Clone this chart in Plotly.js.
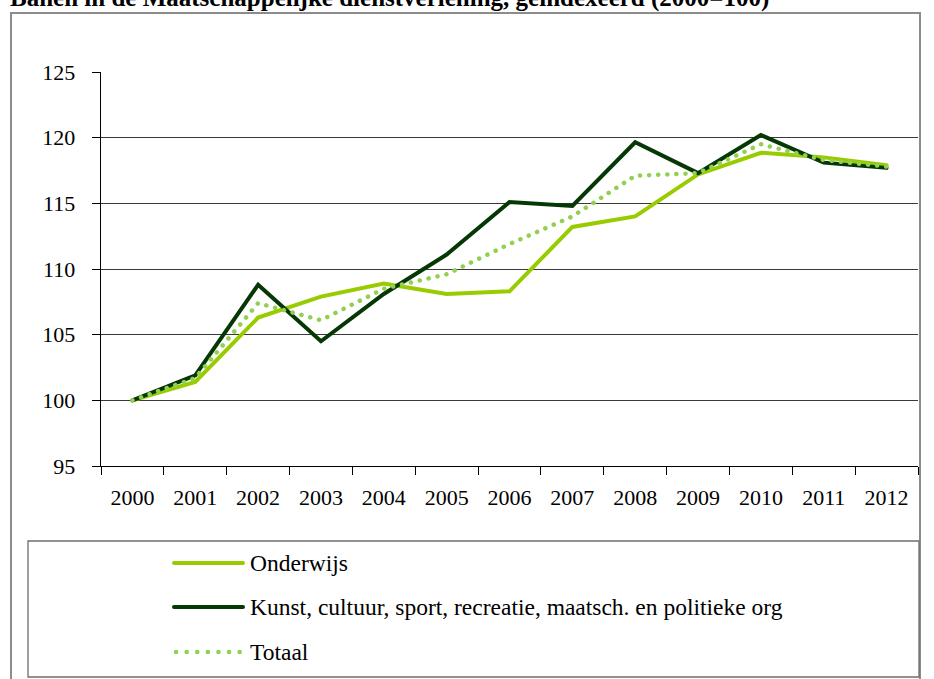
<!DOCTYPE html>
<html>
<head>
<meta charset="utf-8">
<script src="https://cdn.plot.ly/plotly-3.0.1.min.js"></script>
<style>
html, body { margin:0; padding:0; background:#fff; }
#chart { width:934px; height:679px; }
.scatterlayer path.js-line { stroke-linecap: round; stroke-linejoin: miter; }
.shapelayer path { stroke-linecap: round; }
</style>
</head>
<body>
<div id="chart"></div>
<script>
const years = ['2000','2001','2002','2003','2004','2005','2006','2007','2008','2009','2010','2011','2012'];
const onderwijs = [100, 101.4, 106.3, 107.9, 108.9, 108.1, 108.3, 113.2, 114.0, 117.2, 118.85, 118.5, 117.9];
const kunst = [100, 101.9, 108.8, 104.5, 108.1, 111.1, 115.1, 114.8, 119.65, 117.3, 120.2, 118.1, 117.7];
const totaal = [100, 101.7, 107.4, 106.1, 108.5, 109.6, 111.9, 114.0, 117.1, 117.3, 119.5, 118.3, 117.8];
const seriesNames = ['Onderwijs', 'Kunst, cultuur, sport, recreatie, maatsch. en politieke org', 'Totaal'];
const yTicks = [95, 100, 105, 110, 115, 120, 125];
const titleText = 'Banen in de Maatschappelijke dienstverlening, geïndexeerd (2000=100)';

const colors = ['#99CC00', '#053805', '#92D050'];
const dashes = ['solid', 'solid', '0.1px,9px'];
const FONT = 'Liberation Serif';

const traces = [onderwijs, kunst, totaal].map((v, i) => ({
  x: years, y: v, type: 'scatter', mode: 'lines', name: seriesNames[i],
  line: {color: colors[i], width: i === 2 ? 4.5 : 4, dash: dashes[i]},
  showlegend: false, hoverinfo: 'x+y'
}));

// plot area in pixels
const L = 101, R = 918, T = 72, B = 466;
const W = 934, H = 679;
const px = x => (x - L) / (R - L);
const py = y => (B - y) / (B - T);

const shapes = [
  {type:'rect', xref:'paper', yref:'paper', x0:px(11), x1:px(920), y0:py(700), y1:py(13),
   line:{color:'#8c8c8c', width:2}, layer:'below'},
  {type:'rect', xref:'paper', yref:'paper', x0:px(28), x1:px(919), y0:py(677), y1:py(541),
   line:{color:'#6e6e6e', width:1.3}, layer:'below'}
];
const annotations = [
  {xref:'paper', yref:'paper', x:px(8), y:py(-2), xanchor:'left', yanchor:'middle', showarrow:false,
   text:'<b>' + titleText + '</b>', font:{family:FONT, size:25, color:'#000'}}
];
const rowY = [563, 607, 652];
seriesNames.forEach((n, i) => {
  shapes.push({type:'line', xref:'paper', yref:'paper', x0:px(i === 2 ? 176 : 174), x1:px(i === 2 ? 240 : 243),
    y0:py(rowY[i]), y1:py(rowY[i]),
    line:{color:colors[i], width: i === 2 ? 4.5 : 4, dash: i === 2 ? '0.1px,10.5px' : 'solid'}});
  annotations.push({xref:'paper', yref:'paper', x:px(248), y:py(rowY[i]), xanchor:'left', yanchor:'middle',
    showarrow:false, text:n, font:{family:FONT, size:23.5, color:'#000'}});
});

const layout = {
  width: W, height: H,
  margin: {l:L, r:W - R, t:T, b:H - B, pad:0},
  paper_bgcolor:'#fff', plot_bgcolor:'#fff',
  font: {family: FONT, size: 22, color:'#000'},
  xaxis: {
    type:'category', range:[-0.5, 12.5], tickson:'boundaries', ticks:'outside', ticklen:8, tickcolor:'#000', tickwidth:1,
    showline:true, linecolor:'#000', linewidth:1.3, showgrid:false, zeroline:false,
    ticklabelstandoff: 11, tickfont:{family:FONT, size:22, color:'#000'}, fixedrange:true
  },
  yaxis: {
    range:[95, 125], tickvals:yTicks, ticktext:yTicks.map(String), ticks:'outside', ticklen:8,
    tickcolor:'#000', tickwidth:1, showline:true, linecolor:'#000', linewidth:1.3,
    showgrid:true, gridcolor:'#3a3a3a', gridwidth:1, zeroline:false,
    ticklabelstandoff: 12, tickfont:{family:FONT, size:22, color:'#000'}, fixedrange:true
  },
  shapes: shapes, annotations: annotations, showlegend:false
};

Plotly.newPlot('chart', traces, layout, {displayModeBar:false, staticPlot:true});
</script>
</body>
</html>
